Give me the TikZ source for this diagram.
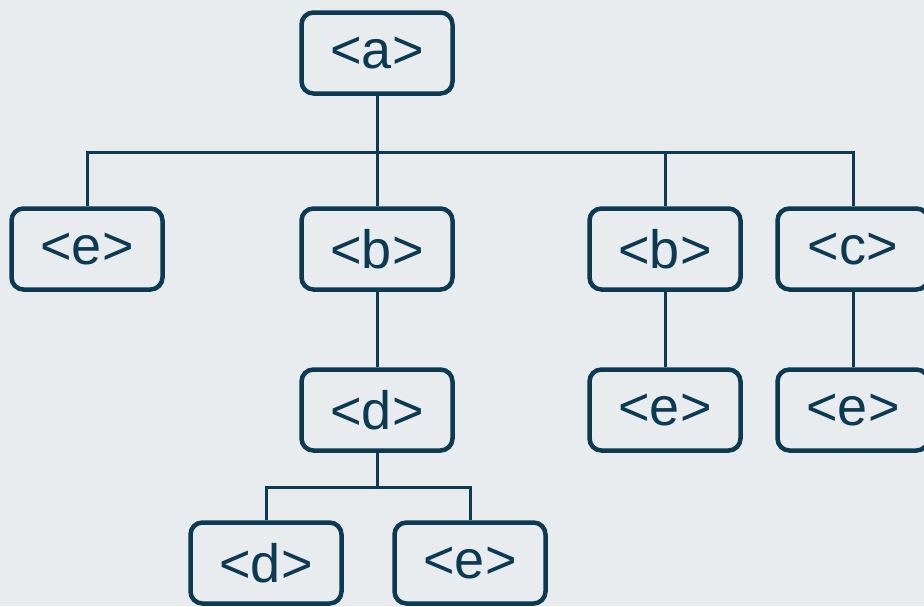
\documentclass[tikz,border=0pt]{standalone}
\usepackage{fontspec}
\setmainfont{Liberation Sans}
\usetikzlibrary{backgrounds}
\definecolor{navy}{HTML}{0B3A52}
\definecolor{bg}{HTML}{E8ECEE}
\begin{document}
\begin{tikzpicture}[x=1pt,y=-1pt,
  tag/.style={draw=navy,line width=4.5pt,rounded corners=12pt,minimum width=151pt,minimum height=81pt,
    text=navy,font=\fontsize{54}{54}\selectfont,inner sep=0pt,fill=bg},
  link/.style={draw=navy,line width=3pt}]
\useasboundingbox (0,0) rectangle (924,606);
% nodes
\node[tag] (a) at (377,53) {<a>};
\node[tag] (e1) at (87,249) {<e>};
\node[tag] (b1) at (377,249) {<b>};
\node[tag] (b2) at (665,249) {<b>};
\node[tag] (c) at (853,249) {<c>};
\node[tag] (d1) at (377,410) {<d>};
\node[tag] (e2) at (665,410) {<e>};
\node[tag] (e3) at (853,410) {<e>};
\node[tag] (d2) at (266,563) {<d>};
\node[tag] (e4) at (470,563) {<e>};
\coordinate (bar) at (377,152);
\coordinate (bar2) at (377,487);
\begin{scope}[on background layer]
\clip (0,0) rectangle (924,606);
\fill[bg] (0,0) rectangle (924,606);
\draw[link] (a) -- (bar);
\draw[link] (e1) |- (bar) -| (c);
\draw[link] (bar) -- (b1);
\draw[link] (bar) -| (b2);
\draw[link] (b1) -- (d1);
\draw[link] (b2) -- (e2);
\draw[link] (c) -- (e3);
\draw[link] (d1) -- (bar2);
\draw[link] (d2) |- (bar2) -| (e4);
\end{scope}
\end{tikzpicture}
\end{document}
